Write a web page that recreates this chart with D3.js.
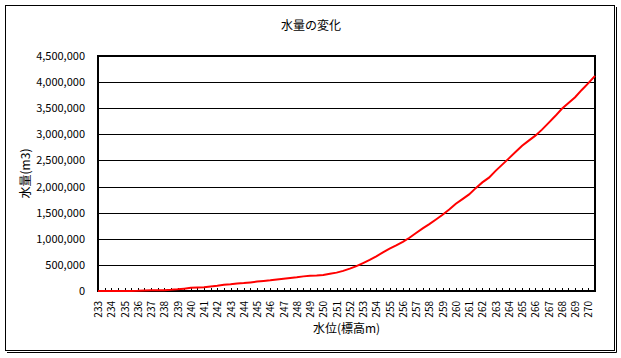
<!DOCTYPE html>
<html>
<head>
<meta charset="utf-8">
<script src="https://cdn.jsdelivr.net/npm/d3@7"></script>
<style>
  body { margin: 0; background: #fff; }
  text { font-family: "Noto Sans CJK JP", "Noto Sans", sans-serif; fill: #000; }
</style>
</head>
<body>
<svg id="chart" width="621" height="358"></svg>
<script>
// water level (m) categories, every 0.5 m
const levels = [233, 233.5, 234, 234.5, 235, 235.5, 236, 236.5, 237, 237.5, 238, 238.5,
  239, 239.5, 240, 240.5, 241, 241.5, 242, 242.5, 243, 243.5, 244, 244.5, 245, 245.5,
  246, 246.5, 247, 247.5, 248, 248.5, 249, 249.5, 250, 250.5, 251, 251.5, 252, 252.5,
  253, 253.5, 254, 254.5, 255, 255.5, 256, 256.5, 257, 257.5, 258, 258.5, 259, 259.5,
  260, 260.5, 261, 261.5, 262, 262.5, 263, 263.5, 264, 264.5, 265, 265.5, 266, 266.5,
  267, 267.5, 268, 268.5, 269, 269.5, 270, 270.5];

// volume (m3) at each level
const volumes = [0, 0, 0, 0, 0, 0, 3000, 10000, 13000, 14000, 16000, 22000,
  32000, 45000, 60000, 65000, 72000, 88000, 100000, 118000, 128000, 143000, 152000, 165000, 180000, 192000,
  205000, 222000, 236000, 250000, 262000, 280000, 292000, 296000, 308000, 330000, 352000, 385000, 428000, 475000,
  535000, 595000, 665000, 740000, 810000, 872000, 940000, 1020000, 1110000, 1200000, 1280000, 1370000, 1460000, 1560000,
  1670000, 1760000, 1850000, 1970000, 2080000, 2170000, 2300000, 2420000, 2540000, 2660000, 2780000, 2880000, 2975000, 3090000,
  3220000, 3350000, 3490000, 3600000, 3710000, 3850000, 3980000, 4120000];

const yTicks = [0, 500000, 1000000, 1500000, 2000000, 2500000, 3000000, 3500000, 4000000, 4500000];
const xLabels = levels.filter(d => d % 1 === 0);

const title = '水量の変化';
const yTitle = '水量(m3)';
const xTitle = '水位(標高m)';

const svg = d3.select('#chart');
const plot = { left: 98, right: 595, top: 56, bottom: 291 };

// chart area border with shadow
svg.append('rect')
  .attr('x', 5.5).attr('y', 5.5).attr('width', 609).attr('height', 345)
  .attr('fill', '#fff').attr('stroke', '#000').attr('stroke-width', 1);
svg.append('path')
  .attr('d', 'M616.5,7V352.5H7')
  .attr('fill', 'none').attr('stroke', '#000').attr('stroke-width', 1);

const x = d3.scalePoint().domain(levels).range([plot.left, plot.right]);
const y = d3.scaleLinear().domain([0, 4500000]).range([plot.bottom, plot.top]);

// gridlines
const grid = svg.append('g')
  .attr('transform', `translate(${plot.left},0)`)
  .call(d3.axisLeft(y).tickValues(yTicks).tickSize(-(plot.right - plot.left)).tickFormat(''));
grid.select('.domain').remove();
grid.selectAll('line').attr('stroke', '#000').attr('shape-rendering', 'crispEdges');

// y labels
const yAxis = svg.append('g')
  .attr('transform', `translate(${plot.left},0)`)
  .call(d3.axisLeft(y).tickValues(yTicks).tickSize(0).tickPadding(13).tickFormat(d3.format(',')));
yAxis.select('.domain').remove();
yAxis.selectAll('text').style('font-size', '11px');

// x tick marks (inside)
const xTickAxis = svg.append('g')
  .attr('transform', `translate(0,${plot.bottom})`)
  .call(d3.axisBottom(x).tickValues(levels).tickSizeInner(-3).tickSizeOuter(0).tickFormat(''));
xTickAxis.select('.domain').remove();
xTickAxis.selectAll('line').attr('stroke', '#000').attr('shape-rendering', 'crispEdges');

// x labels, rotated
const xAxis = svg.append('g')
  .attr('transform', `translate(0,${plot.bottom})`)
  .call(d3.axisBottom(x).tickValues(xLabels).tickSize(0).tickFormat(d3.format('d')));
xAxis.select('.domain').remove();
xAxis.selectAll('text')
  .style('font-size', '10px')
  .attr('text-anchor', 'end')
  .attr('transform', 'rotate(-90)')
  .attr('x', -10)
  .attr('y', 0)
  .attr('dy', '0.35em');

// plot border
svg.append('rect')
  .attr('x', plot.left).attr('y', plot.top)
  .attr('width', plot.right - plot.left).attr('height', plot.bottom - plot.top)
  .attr('fill', 'none').attr('stroke', '#000').attr('stroke-width', 2);

// the line
const line = d3.line()
  .x((d, i) => x(levels[i]))
  .y(d => y(d));

svg.append('path')
  .datum(volumes)
  .attr('d', line)
  .attr('fill', 'none')
  .attr('stroke', '#ff0000')
  .attr('stroke-width', 2);

// titles
svg.append('text')
  .attr('x', 311).attr('y', 30)
  .attr('text-anchor', 'middle')
  .style('font-size', '12px')
  .text(title);

svg.append('text')
  .attr('transform', `translate(30,${(plot.top + plot.bottom) / 2}) rotate(-90)`)
  .attr('text-anchor', 'middle')
  .style('font-size', '12px')
  .text(yTitle);

svg.append('text')
  .attr('x', (plot.left + plot.right) / 2).attr('y', 333)
  .attr('text-anchor', 'middle')
  .style('font-size', '12px')
  .text(xTitle);
</script>
</body>
</html>
